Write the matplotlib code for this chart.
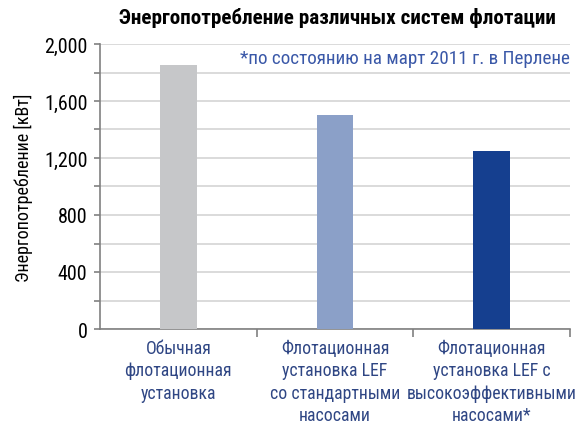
import matplotlib
matplotlib.use("Agg")
import matplotlib.pyplot as plt
import numpy as np

plt.rcParams['font.family'] = ['Roboto Condensed', 'DejaVu Sans']
plt.rcParams['font.stretch'] = 'condensed'

categories = [
    "Обычная\nфлотационная\nустановка",
    "Флотационная\nустановка LEF\nсо стандартными\nнасосами",
    "Флотационная\nустановка LEF с\nвысокоэффективными\nнасосами*",
]
power_kw = [1850, 1500, 1250]
bar_colors = ["#C6C7C9", "#8BA0C8", "#153F8F"]
ytick_values = [0, 400, 800, 1200, 1600, 2000]
ytick_labels = ["0", "400", "800", "1,200", "1,600", "2,000"]

fig = plt.figure(figsize=(5.88, 4.39), dpi=100)
ax = fig.add_axes([100 / 588, 1 - 330 / 439, 470 / 588, 285 / 439])

x = np.arange(len(categories))
ax.bar(x, power_kw, width=0.236, color=bar_colors, zorder=3)

ax.set_xlim(-0.5, 2.5)
ax.set_ylim(0, 2000)

# labelled ticks every 400, extra ticks and grid lines in between
ax.set_yticks(ytick_values)
ax.set_yticklabels(ytick_labels)
ax.set_yticks(np.arange(200, 2001, 400), minor=True)
ax.yaxis.grid(True, which="both", color="#D4D4D4", linewidth=1.2, zorder=0)

ax.set_xticks(x)
ax.set_xticklabels(categories, color="#2F4684", fontsize=12.8, linespacing=1.32)
ax.set_xticks([0.5, 1.5, 2.5], minor=True)
ax.tick_params(axis="x", which="major", length=0, pad=7)
ax.tick_params(axis="x", which="minor", length=6, color="#808080", width=1.2)
ax.tick_params(axis="y", which="both", length=4, color="#808080", width=1.2,
               labelsize=14.5, pad=5)

for side in ["top", "right"]:
    ax.spines[side].set_visible(False)
for side in ["left", "bottom"]:
    ax.spines[side].set_color("#808080")
    ax.spines[side].set_linewidth(1.2)

ax.set_ylabel("Энергопотребление [кВт]", fontsize=13, labelpad=8)

fig.text(337 / 588, 1 - 18 / 439, "Энергопотребление различных систем флотации",
         ha="center", va="center", fontsize=15.2, fontweight="bold")
ax.text(2.5, 1900, "*по состоянию на март 2011 г. в Перлене",
        ha="right", va="center", color="#3A58A8", fontsize=13.8)

fig.savefig("out.png", dpi=100)
